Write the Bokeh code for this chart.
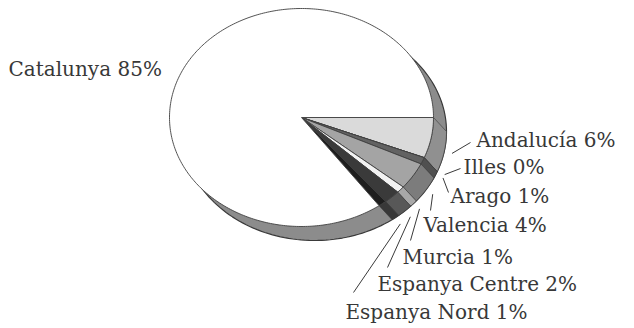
import numpy as np
from bokeh.plotting import figure
from bokeh.models import Range1d
from bokeh.core.properties import value
from bokeh.embed import file_html
from bokeh.resources import INLINE

# Share of the total by region (percent)
regions = ["Catalunya", "Andalucía", "Illes", "Arago", "Valencia",
           "Murcia", "Espanya Centre", "Espanya Nord"]
shares = [85, 6, 0, 1, 4, 1, 2, 1]

# Fill of each slice on the top face and on the rim
face_colors = ["#ffffff", "#dadada", "#444444", "#626262", "#a4a4a4",
               "#f2f2f2", "#3a3a3a", "#1e1e1e"]
side_colors = ["#8c8c8c", "#909090", "#3c3c3c", "#505050", "#7c7c7c",
               "#a8a8a8", "#585858", "#383838"]

# Slices run clockwise from 3 o'clock, Catalunya closing the circle
order = [1, 2, 3, 4, 5, 6, 7, 0]

# Geometry of the tilted disc (screen pixels, y pointing down)
W, H = 634, 328
CX, CY = 301, 117
RX, RY = 132, 109
DX, DY = 13, 14          # thickness of the disc as seen on screen
GAP = 8                  # gap between rim and leader lines

# Label anchors (left x, baseline y) and leader-line ends
label_pos = {
    "Catalunya": (8, 68, None),
    "Andalucía": (476, 139, (470, 142)),
    "Illes": (463, 166, (460, 168)),
    "Arago": (450, 195, (448, 192)),
    "Valencia": (423, 224, (430, 210)),
    "Murcia": (402, 256, (410, 240)),
    "Espanya Centre": (377, 283, (387, 267)),
    "Espanya Nord": (345, 311, (353, 292)),
}


def ellipse_pts(cx, cy, t0, t1, n=80, rx=RX, ry=RY):
    ts = np.linspace(t0, t1, max(n, 2))
    return cx + rx * np.cos(ts), cy + ry * np.sin(ts)


total = float(sum(shares))
start, end = {}, {}
cum = 0.0
for i in order:
    start[i] = cum / total * 2 * np.pi
    cum += shares[i]
    end[i] = cum / total * 2 * np.pi

p = figure(width=W, height=H, x_range=Range1d(0, W), y_range=Range1d(H, 0),
           output_backend="svg", toolbar_location=None,
           x_axis_type=None, y_axis_type=None, min_border=0)
p.grid.visible = False
p.outline_line_color = None
p.background_fill_color = "white"
p.border_fill_color = "white"

# Rim: the whole lower disc, then the coloured strip of each front slice
bx, by = ellipse_pts(CX + DX, CY + DY, 0, 2 * np.pi, 200)
p.patch(bx, by, fill_color=side_colors[0], line_color="#3a3a3a", line_width=1.2)

sx, sy, sc = [], [], []
for i in order:
    if i == 0:
        continue
    n = int(40 * (end[i] - start[i]) + 2)
    fx, fy = ellipse_pts(CX, CY, start[i], end[i], n)
    ox, oy = ellipse_pts(CX + DX, CY + DY, end[i], start[i], n)
    sx.append(list(np.concatenate([fx, ox])))
    sy.append(list(np.concatenate([fy, oy])))
    sc.append(side_colors[i])
p.patches(xs=sx, ys=sy, fill_color=sc, line_color="#3a3a3a", line_width=0.6)

# Top face slices
xs, ys, cs = [], [], []
for i in order:
    n = int(60 * (end[i] - start[i]) + 2)
    ax, ay = ellipse_pts(CX, CY, start[i], end[i], n)
    xs.append([CX] + list(ax))
    ys.append([CY] + list(ay))
    cs.append(face_colors[i])
p.patches(xs=xs, ys=ys, fill_color=cs, line_color="#404040", line_width=0.9)

# Labels and leader lines
lx, ly, lt = [], [], []
x0, y0, x1, y1 = [], [], [], []
for i, name in enumerate(regions):
    tx, ty, tip = label_pos[name]
    lx.append(tx)
    ly.append(ty)
    lt.append(f"{name} {shares[i]}%")
    if tip is not None:
        mid = 0.5 * (start[i] + end[i])
        x0.append(CX + DX + (RX + GAP) * np.cos(mid))
        y0.append(CY + DY + (RY + GAP) * np.sin(mid))
        x1.append(tip[0])
        y1.append(tip[1])

p.segment(x0=x0, y0=y0, x1=x1, y1=y1, line_color="#3a3a3a", line_width=1)
p.text(x=lx, y=ly, text=lt, text_font=value("DejaVu Serif"),
       text_font_size="20px", text_color="#383838",
       text_align="left", text_baseline="alphabetic")

open("out.html", "w").write(file_html(p, INLINE))
